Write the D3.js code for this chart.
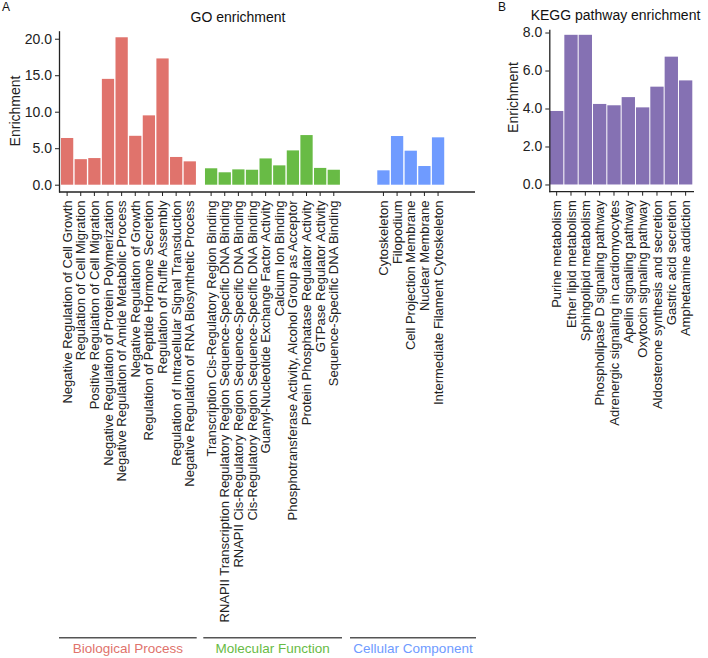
<!DOCTYPE html>
<html><head><meta charset="utf-8">
<script src="https://cdn.jsdelivr.net/npm/d3@7"></script>
<style>body{margin:0;background:#fff}svg{display:block;font-family:"Liberation Sans",Arial,sans-serif}</style>
</head><body><svg id="c" width="708" height="658"></svg>
<script>
// ---- data ----
const bpLabels = ["Negative Regulation of Cell Growth","Regulation of Cell Migration","Positive Regulation of Cell Migration","Negative Regulation of Protein Polymerization","Negative Regulation of Amide Metabolic Process","Negative Regulation of Growth","Regulation of Peptide Hormone Secretion","Regulation of Ruffle Assembly","Regulation of Intracellular Signal Transduction","Negative Regulation of RNA Biosynthetic Process"];
const bpValues = [6.4, 3.5, 3.65, 14.5, 20.2, 6.7, 9.5, 17.3, 3.8, 3.2];
const mfLabels = ["Transcription Cis-Regulatory Region Binding","RNAPII Transcription Regulatory Region Sequence-Specific DNA Binding","RNAPII Cis-Regulatory Region Sequence-Specific DNA Binding","Cis-Regulatory Region Sequence-Specific DNA Binding","Guanyl-Nucleotide Exchange Factor Activity","Calcium Ion Binding","Phosphotransferase Activity, Alcohol Group as Acceptor","Protein Phosphatase Regulator Activity","GTPase Regulator Activity","Sequence-Specific DNA Binding"];
const mfValues = [2.25, 1.7, 2.1, 2.05, 3.6, 2.65, 4.7, 6.8, 2.3, 2.05];
const ccLabels = ["Cytoskeleton","Filopodium","Cell Projection Membrane","Nuclear Membrane","Intermediate Filament Cytoskeleton"];
const ccValues = [1.97, 6.67, 4.66, 2.56, 6.49];
const groupNames = ["Biological Process","Molecular Function","Cellular Component"];
const goTicks = [0, 5, 10, 15, 20];
const keggLabels = ["Purine metabolism","Ether lipid metabolism","Sphingolipid metabolism","Phospholipase D signaling pathway","Adrenergic signaling in cardiomyocytes","Apelin signaling pathway","Oxytocin signaling pathway","Aldosterone synthesis and secretion","Gastric acid secretion","Amphetamine addiction"];
const keggValues = [3.87, 7.88, 7.88, 4.24, 4.17, 4.6, 4.06, 5.15, 6.73, 5.48];
const keggTicks = [0, 2, 4, 6, 8];

// ---- style / layout ----
const colors = ["#E0736C", "#68BB45", "#6F9BFF"];
const keggColor = "#8571B3";
const axisColor = "#222";
const FONT = "Liberation Sans, Arial, sans-serif";
const fmt = d3.format(".1f");
const svg = d3.select("#c");

function addText(parent, x, y, str, fs, opts = {}) {
  const t = parent.append("text").attr("x", x).attr("y", y)
    .attr("font-size", fs).attr("font-family", FONT)
    .attr("fill", opts.fill || "#222").attr("text-anchor", opts.anchor || "start");
  if (opts.dy) t.attr("dy", opts.dy);
  if (opts.rotate) t.attr("transform", `rotate(-90,${x},${y})`);
  t.text(str);
  return t;
}

function styleAxis(g) {
  g.selectAll("path.domain").attr("stroke", axisColor).attr("stroke-width", 1.3);
  g.selectAll(".tick line").attr("stroke", axisColor).attr("stroke-width", 1);
  g.selectAll(".tick text").remove();
}

function xAxis(x, axisY) {
  const ax = svg.append("g").attr("transform", `translate(0,${axisY})`)
    .call(d3.axisBottom(x).tickSize(4).tickSizeOuter(0));
  ax.select("path.domain").remove();
  styleAxis(ax);
  x.domain().forEach(d => {
    addText(svg, x(d) + x.bandwidth() / 2, axisY + 8.5, d, 13, {anchor: "end", dy: "0.35em", rotate: true});
  });
}

function yAxis(y, ticks, axisX) {
  const ax = svg.append("g").attr("transform", `translate(${axisX},0)`)
    .call(d3.axisLeft(y).tickValues(ticks).tickSize(4).tickSizeOuter(0));
  styleAxis(ax);
  ticks.forEach(v => addText(svg, axisX - 7, y(v), fmt(v), 14, {anchor: "end", dy: "0.35em"}));
}

// ---- GO panel ----
const goY = d3.scaleLinear().domain([-1.0, 21.1]).range([192, 30.7]);
const goAxisX = [59, 475];
const groups = [
  {labels: bpLabels, values: bpValues, range: [60.3, 196.6], bracket: [59, 196.7]},
  {labels: mfLabels, values: mfValues, range: [204.3, 340.6], bracket: [203.3, 342]},
  {labels: ccLabels, values: ccValues, range: [376.6, 444.9], bracket: [350, 476]}
];

groups.forEach((grp, gi) => {
  const x = d3.scaleBand().domain(grp.labels).range(grp.range).paddingInner(0.1).paddingOuter(0.05);
  svg.append("g").selectAll("rect").data(grp.labels).join("rect")
    .attr("x", d => x(d)).attr("width", x.bandwidth())
    .attr("y", (d, i) => goY(grp.values[i]))
    .attr("height", (d, i) => goY(0) - goY(grp.values[i]))
    .attr("fill", colors[gi]);
  xAxis(x, goY.range()[0]);
  svg.append("line").attr("x1", grp.bracket[0]).attr("x2", grp.bracket[1])
    .attr("y1", 637.7).attr("y2", 637.7).attr("stroke", "#555").attr("stroke-width", 1.4);
  addText(svg, (grp.bracket[0] + grp.bracket[1]) / 2, 653, groupNames[gi], 13.5, {anchor: "middle", fill: colors[gi]});
});
svg.append("line").attr("x1", goAxisX[0]).attr("x2", goAxisX[1]).attr("y1", 192).attr("y2", 192)
  .attr("stroke", axisColor).attr("stroke-width", 1.3);
yAxis(goY, goTicks, 59);
addText(svg, 15, 111, "Enrichment", 14, {anchor: "middle", dy: "0.35em", rotate: true});
addText(svg, 238, 22, "GO enrichment", 14, {anchor: "middle", fill: "#111"});
addText(svg, 2, 11, "A", 12, {fill: "#111"});

// ---- KEGG panel ----
const kY = d3.scaleLinear().domain([-0.38, 8.17]).range([191.7, 29.3]);
const kX = d3.scaleBand().domain(keggLabels).range([549.5, 692.8]).paddingInner(0.07).paddingOuter(0.035);
svg.append("g").selectAll("rect").data(keggLabels).join("rect")
  .attr("x", d => kX(d)).attr("width", kX.bandwidth())
  .attr("y", (d, i) => kY(keggValues[i]))
  .attr("height", (d, i) => kY(0) - kY(keggValues[i]))
  .attr("fill", keggColor);
xAxis(kX, kY.range()[0]);
svg.append("line").attr("x1", 549.3).attr("x2", 694).attr("y1", 191.7).attr("y2", 191.7)
  .attr("stroke", axisColor).attr("stroke-width", 1.3);
yAxis(kY, keggTicks, 549.3);
addText(svg, 513.3, 97.5, "Enrichment", 14, {anchor: "middle", dy: "0.35em", rotate: true});
addText(svg, 615.5, 20, "KEGG pathway enrichment", 14, {anchor: "middle", fill: "#111"});
addText(svg, 498, 11, "B", 12, {fill: "#111"});
</script></body></html>
